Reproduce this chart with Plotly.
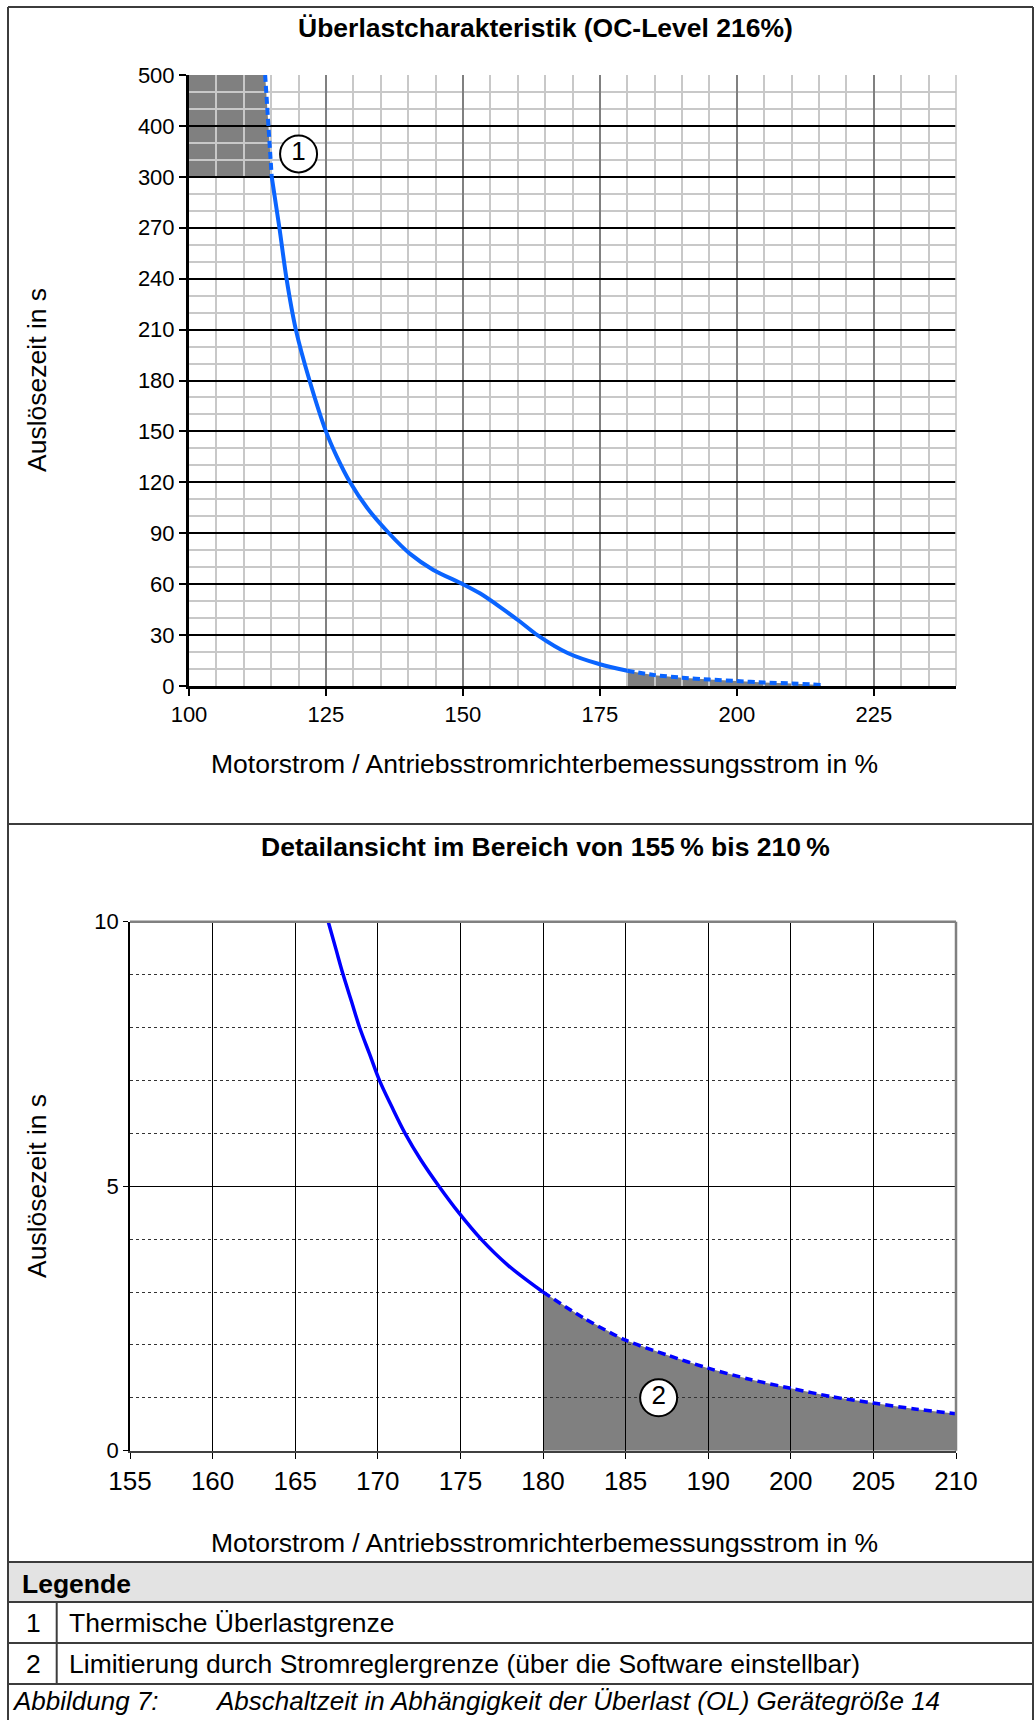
import numpy as np
import plotly.graph_objects as go

W, H = 1035, 1720

# ---------------- data: overview chart ----------------
x_thermal = [113.9, 114.2, 114.5, 114.8, 115.1]
y_thermal = [500, 450, 400, 350, 300]
x_main = [115.1, 116.5, 117.8, 119.5, 122.0, 125.0, 127.0, 129.4, 132.5, 136.5,
          140.3, 144.6, 150.0, 153.1, 156.8, 160.4, 163.6, 169.2, 175.0, 180.0]
y_main = [300, 270, 240, 210, 180, 150, 135, 120, 105, 90,
          78, 68.4, 60, 54.6, 46.5, 38.0, 30, 19.3, 12.8, 9.0]
x_limit = [180, 185, 190, 195, 200, 205, 210, 215.3]
y_limit = [9.0, 6.4, 4.9, 3.8, 2.9, 2.0, 1.5, 0.6]
x_range1 = [100, 240]
x_ticks1 = [100, 125, 150, 175, 200, 225]
y_ticks1 = [0, 30, 60, 90, 120, 150, 180, 210, 240, 270, 300, 400, 500]

# ---------------- data: detail chart ----------------
x_ticks2 = [155, 160, 165, 170, 175, 180, 185, 190, 200, 205, 210]
y_ticks2 = [0, 5, 10]
x_detail_solid = [167.0, 167.45, 167.9, 168.4, 168.9, 169.5, 170.1, 170.85, 171.65,
                  172.6, 173.7, 174.9, 176.25, 177.9, 180.0]
y_detail_solid = [10.0, 9.5, 9.0, 8.5, 8.0, 7.5, 7.0, 6.5, 6.0,
                  5.5, 5.0, 4.5, 4.0, 3.5, 3.0]
x_detail_dash = [180, 182.5, 185, 187.5, 190, 195, 200, 202.5, 205, 207.5, 210]
y_detail_dash = [3.0, 2.5, 2.09, 1.81, 1.56, 1.35, 1.18, 1.02, 0.90, 0.79, 0.70]

callout_1 = (120, 345)
callout_2 = (187, 1.0)

legend_rows = [("1", "Thermische Überlastgrenze"),
               ("2", "Limitierung durch Stromreglergrenze (über die Software einstellbar)")]

# ---------------- helpers ----------------
FONT = "Liberation Sans, Arial, sans-serif"
BLUE1 = "#0a64ff"
BLUE2 = "#0000ff"
GRAY = "#808080"


def ypos1(v):
    """piecewise y scale of the overview: 0..300 (30 per step), 300..500 (100 per step)"""
    v = np.asarray(v, dtype=float)
    return np.where(v <= 300, v / 30.0, 10 + (v - 300) / 100.0)


def xpos2(v):
    """category-like x scale of the detail chart (190 -> 200 is one step)"""
    return np.interp(np.asarray(v, dtype=float), x_ticks2, np.arange(len(x_ticks2)))


def px(x):
    return x / W


def py(y):
    return 1 - y / H


def path(xs, ys):
    pts = [f"{a:.4f},{b:.4f}" for a, b in zip(xs, ys)]
    return "M " + " L ".join(pts) + " Z"


fig = go.Figure()

# ---------------- overview traces ----------------
fig.add_trace(go.Scatter(x=x_thermal, y=ypos1(y_thermal), mode="lines",
                         line=dict(color=BLUE1, width=4, dash="7px,4px"),
                         xaxis="x", yaxis="y", hoverinfo="skip"))
fig.add_trace(go.Scatter(x=x_main, y=ypos1(y_main), mode="lines",
                         line=dict(color=BLUE1, width=4, shape="spline", smoothing=0.8),
                         xaxis="x", yaxis="y", hoverinfo="skip"))
fig.add_trace(go.Scatter(x=x_limit, y=ypos1(y_limit), mode="lines",
                         line=dict(color=BLUE1, width=4, dash="7px,4px", shape="spline", smoothing=0.6),
                         xaxis="x", yaxis="y", hoverinfo="skip"))
fig.add_trace(go.Scatter(x=[callout_1[0]], y=ypos1([callout_1[1]]), mode="markers+text",
                         text=["1"], textposition="middle center",
                         textfont=dict(family=FONT, size=26, color="black"),
                         marker=dict(symbol="circle", size=37, color="white",
                                     line=dict(color="black", width=2)),
                         xaxis="x", yaxis="y", hoverinfo="skip"))

# ---------------- detail traces ----------------
fig.add_trace(go.Scatter(x=xpos2(x_detail_solid), y=y_detail_solid, mode="lines",
                         line=dict(color=BLUE2, width=3.5, shape="spline", smoothing=1.0),
                         xaxis="x2", yaxis="y2", hoverinfo="skip"))
fig.add_trace(go.Scatter(x=xpos2(x_detail_dash), y=y_detail_dash, mode="lines",
                         line=dict(color=BLUE2, width=3.5, dash="8px,5px", shape="spline", smoothing=0.8),
                         xaxis="x2", yaxis="y2", hoverinfo="skip"))
fig.add_trace(go.Scatter(x=xpos2([callout_2[0]]), y=[callout_2[1]], mode="markers+text",
                         text=["2"], textposition="middle center",
                         textfont=dict(family=FONT, size=26, color="black"),
                         marker=dict(symbol="circle", size=37, color="white",
                                     line=dict(color="black", width=2)),
                         xaxis="x2", yaxis="y2", hoverinfo="skip"))

shapes = []
# gray areas (below the gridlines)
fill_top_x = [x_range1[0]] + x_thermal + [x_range1[0]]
fill_top_y = list(ypos1([y_thermal[0]] + y_thermal + [y_thermal[-1]]))
shapes.append(dict(type="path", xref="x", yref="y", layer="below",
                   path=path(fill_top_x, fill_top_y), fillcolor=GRAY, line=dict(width=0)))
fill_bot_x = [x_limit[0]] + x_limit + [x_limit[-1]]
fill_bot_y = list(ypos1([0] + y_limit + [0]))
shapes.append(dict(type="path", xref="x", yref="y", layer="below",
                   path=path(fill_bot_x, fill_bot_y), fillcolor=GRAY, line=dict(width=0)))
fill_det_x = list(xpos2([x_detail_dash[0]] + x_detail_dash + [x_detail_dash[-1]]))
fill_det_y = [0] + y_detail_dash + [0]
shapes.append(dict(type="path", xref="x2", yref="y2", layer="below",
                   path=path(fill_det_x, fill_det_y), fillcolor=GRAY, line=dict(width=0)))

# plot borders
shapes.append(dict(type="line", xref="x domain", yref="y domain", x0=1, x1=1, y0=0, y1=1,
                   line=dict(color="#c0c0c0", width=1.5)))
shapes.append(dict(type="line", xref="x2 domain", yref="y2 domain", x0=0, x1=1, y0=1, y1=1,
                   line=dict(color=GRAY, width=2.5)))
shapes.append(dict(type="line", xref="x2 domain", yref="y2 domain", x0=1, x1=1, y0=0, y1=1,
                   line=dict(color=GRAY, width=2.5)))

# document frame / table
FR = dict(color="#3c3c3c", width=2)
shapes.append(dict(type="rect", xref="paper", yref="paper", x0=px(8), x1=px(1033),
                   y0=py(1602), y1=py(1562), fillcolor="#e3e3e3", line=dict(width=0), layer="below"))
for y in [7, 824, 1562, 1602, 1643, 1684]:
    shapes.append(dict(type="line", xref="paper", yref="paper", x0=px(8), x1=px(1033),
                       y0=py(y), y1=py(y), line=FR))
shapes.append(dict(type="line", xref="paper", yref="paper", x0=px(8), x1=px(8),
                   y0=py(7), y1=py(1722), line=FR))
shapes.append(dict(type="line", xref="paper", yref="paper", x0=px(1033), x1=px(1033),
                   y0=py(7), y1=py(1722), line=FR))
shapes.append(dict(type="line", xref="paper", yref="paper", x0=px(56.7), x1=px(56.7),
                   y0=py(1602), y1=py(1684), line=FR))

ann = []


def text(x, y, s, size=26.5, bold=False, italic=False, xanchor="center", angle=0):
    t = f"<b>{s}</b>" if bold else s
    t = f"<i>{t}</i>" if italic else t
    ann.append(dict(x=px(x), y=py(y), xref="paper", yref="paper", text=t, showarrow=False,
                    xanchor=xanchor, yanchor="middle", textangle=angle,
                    font=dict(family=FONT, size=size, color="black")))


text(545, 28, "Überlastcharakteristik (OC-Level 216%)", bold=True)
text(544, 764, "Motorstrom / Antriebsstromrichterbemessungsstrom in %")
text(37, 380, "Auslösezeit in s", angle=-90)
text(545, 847, "Detailansicht im Bereich von 155\u2009% bis 210\u2009%", bold=True)
text(544, 1543, "Motorstrom / Antriebsstromrichterbemessungsstrom in %")
text(37, 1186, "Auslösezeit in s", angle=-90)
text(20, 1584, "Legende", bold=True, xanchor="left")
for i, (num, label) in enumerate(legend_rows):
    yy = 1623 + 41 * i
    text(33, yy, num)
    text(67, yy, label, xanchor="left")
text(10, 1701, "Abbildung 7:", size=26, italic=True, xanchor="left")
text(213, 1701, "Abschaltzeit in Abhängigkeit der Überlast (OL) Gerätegröße 14",
     size=26, italic=True, xanchor="left")

fig.update_layout(
    width=W, height=H, margin=dict(l=0, r=0, t=0, b=0, pad=0, autoexpand=False),
    paper_bgcolor="white", plot_bgcolor="white", showlegend=False,
    font=dict(family=FONT, color="black"),
    shapes=shapes, annotations=ann,
    xaxis=dict(domain=[px(189), px(956)], anchor="y", range=x_range1, automargin=False,
               tickmode="array", tickvals=x_ticks1, ticktext=[str(v) for v in x_ticks1],
               showgrid=True, gridcolor=GRAY, gridwidth=2,
               minor=dict(tickmode="linear", tick0=x_range1[0], dtick=5, showgrid=True,
                          gridcolor="#c8c8c8", gridwidth=1.5, ticks=""),
               showline=True, linecolor="black", linewidth=3,
               ticks="outside", ticklen=7, tickwidth=2, tickcolor="black",
               tickfont=dict(family=FONT, size=22), zeroline=False, fixedrange=True),
    yaxis=dict(domain=[py(686), py(75)], anchor="x", range=[0, 12], automargin=False,
               tickmode="array", tickvals=list(ypos1(y_ticks1)), ticktext=[str(v) for v in y_ticks1],
               showgrid=True, gridcolor="black", gridwidth=2,
               minor=dict(tickmode="linear", tick0=0, dtick=1 / 3, showgrid=True,
                          gridcolor="#c8c8c8", gridwidth=1.5, ticks=""),
               showline=True, linecolor="black", linewidth=3,
               ticks="outside", ticklen=7, tickwidth=2, tickcolor="black",
               tickfont=dict(family=FONT, size=22), zeroline=False, fixedrange=True),
    xaxis2=dict(domain=[px(130), px(956)], anchor="y2", range=[0, len(x_ticks2) - 1],
                automargin=False,
                tickmode="array", tickvals=list(range(len(x_ticks2))),
                ticktext=[str(v) for v in x_ticks2],
                showgrid=True, gridcolor="black", gridwidth=1,
                showline=True, linecolor="#404040", linewidth=2,
                ticks="outside", ticklen=6, tickwidth=1, tickcolor="black",
                tickfont=dict(family=FONT, size=26), zeroline=False, fixedrange=True),
    yaxis2=dict(domain=[py(1450.7), py(921.7)], anchor="x2", range=[0, 10], automargin=False,
                tickmode="array", tickvals=y_ticks2, ticktext=[str(v) for v in y_ticks2],
                showgrid=True, gridcolor="black", gridwidth=1,
                minor=dict(tickmode="linear", tick0=0, dtick=1, showgrid=True,
                           gridcolor="#333333", griddash="dot", gridwidth=1, ticks=""),
                showline=True, linecolor="black", linewidth=1.5,
                ticks="outside", ticklen=5, tickwidth=1, tickcolor="black",
                tickfont=dict(family=FONT, size=22), zeroline=False, fixedrange=True),
)

fig.write_html("out.html", config={"displayModeBar": False},
               post_script="document.body.style.margin='0px';")
